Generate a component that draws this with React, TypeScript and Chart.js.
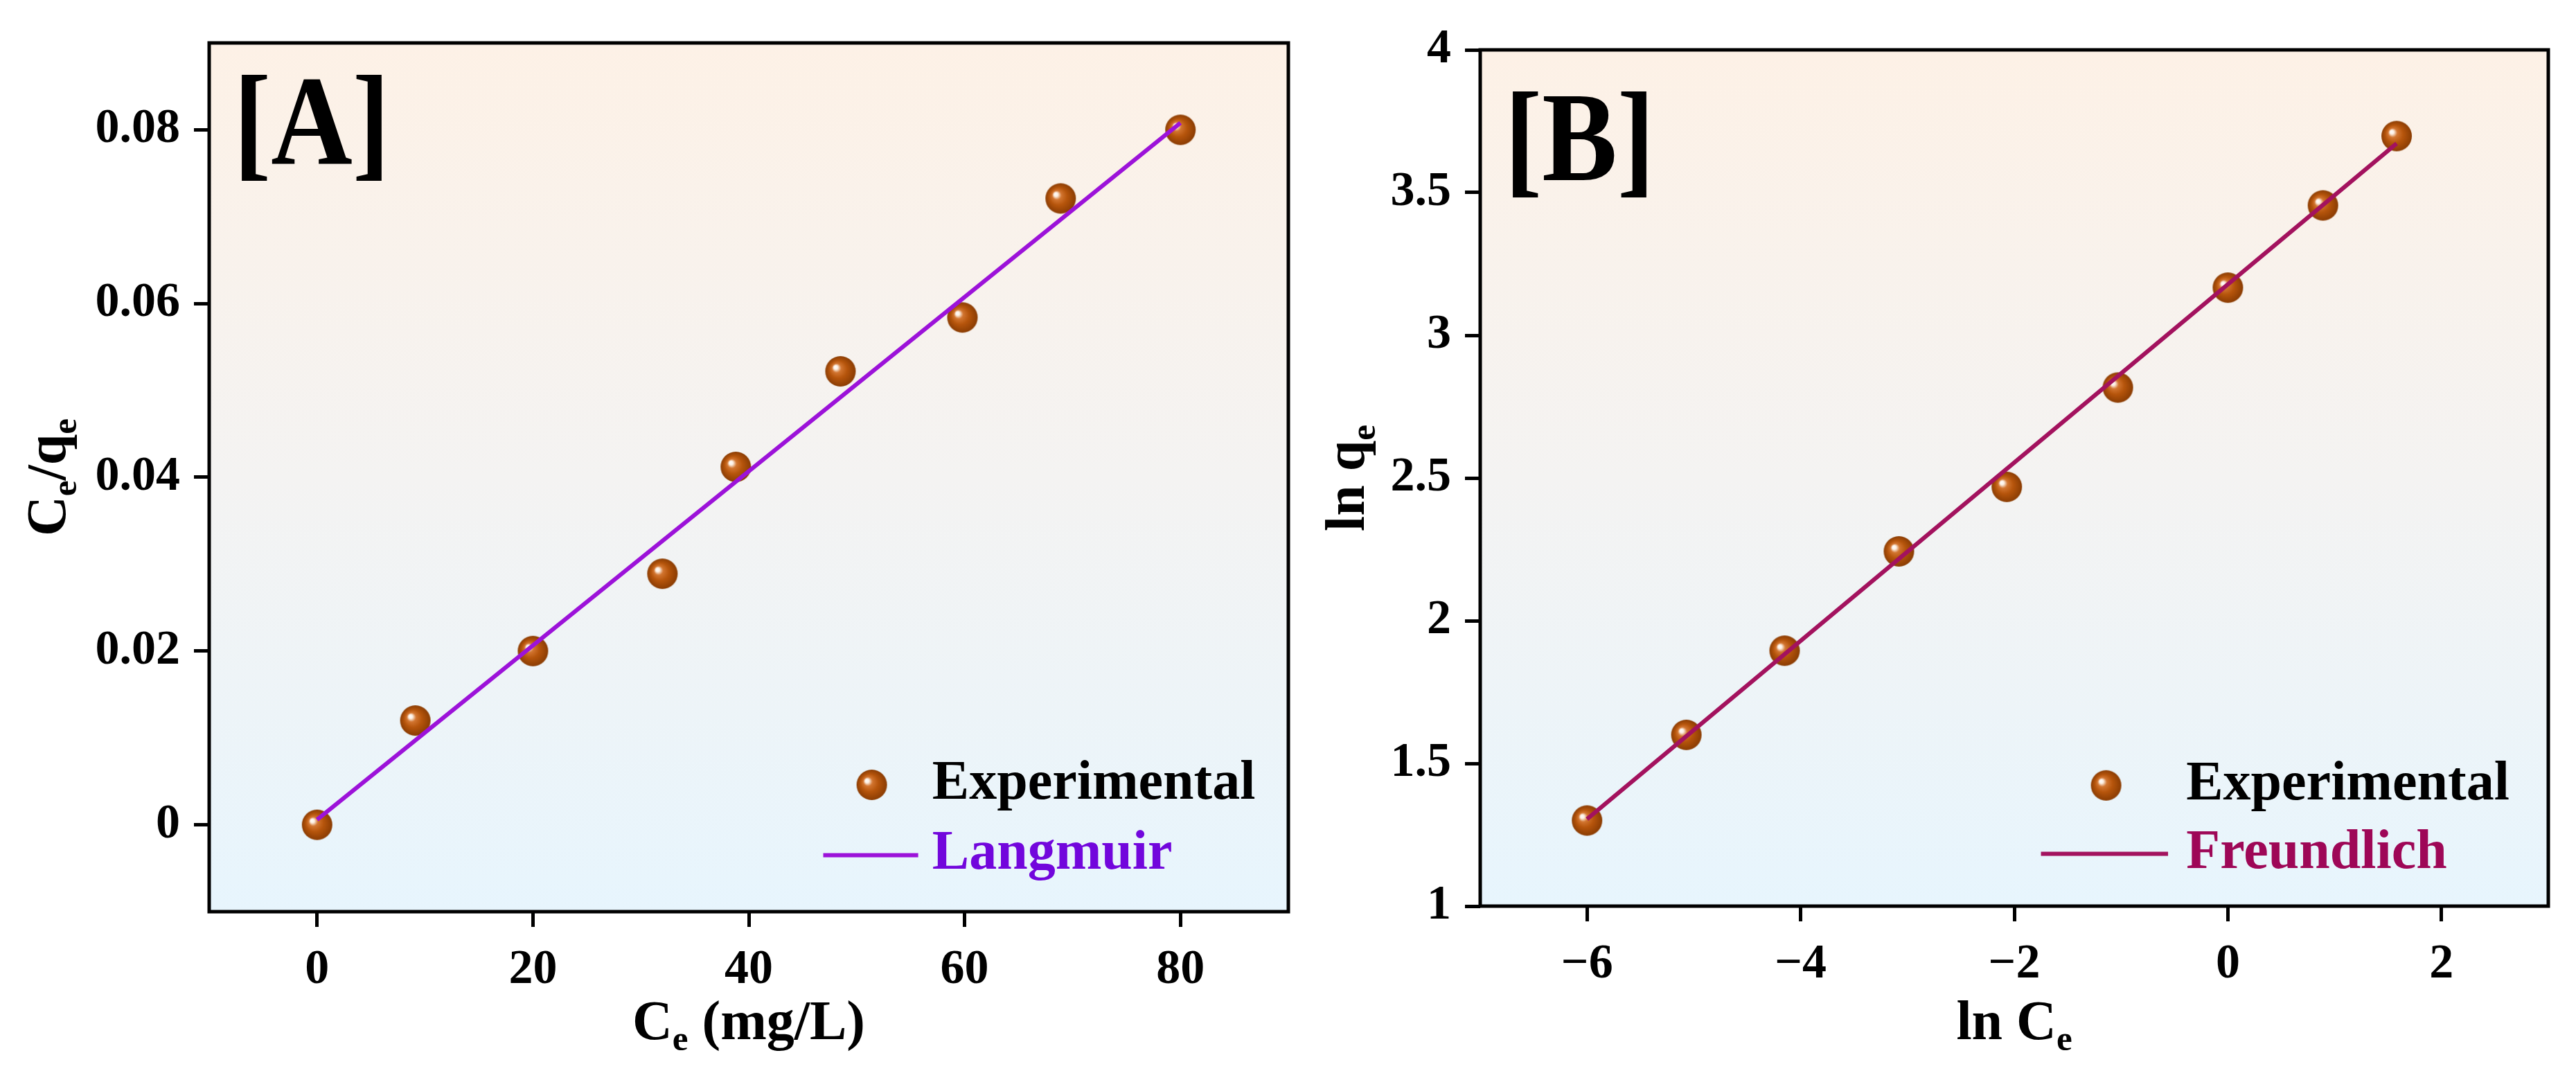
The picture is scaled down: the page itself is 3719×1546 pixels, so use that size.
import { useEffect, useRef } from 'react';
import { Chart, registerables, type ChartConfiguration, type Plugin } from 'chart.js';

Chart.register(...registerables);

// ---- data ----
const langmuirCe = [0, 9.1, 20, 32, 38.8, 48.5, 59.8, 68.9, 80];
const langmuirCeQe = [0, 0.012, 0.02, 0.0289, 0.0412, 0.0522, 0.0584, 0.0721, 0.08];
const langmuirFitX = [0, 80];
const langmuirFitY = [0.0006, 0.0808];

const freundLnCe = [-6, -5.07, -4.15, -3.08, -2.07, -1.03, 0, 0.89, 1.58];
const freundLnQe = [1.3, 1.6, 1.895, 2.243, 2.469, 2.817, 3.167, 3.455, 3.698];
const freundFitX = [-6, 1.58];
const freundFitY = [1.305, 3.672];

const xTicksA = [0, 20, 40, 60, 80];
const xLabelsA = ['0', '20', '40', '60', '80'];
const yTicksA = [0, 0.02, 0.04, 0.06, 0.08];
const yLabelsA = ['0', '0.02', '0.04', '0.06', '0.08'];

const xTicksB = [-6, -4, -2, 0, 2];
const xLabelsB = ['\u22126', '\u22124', '\u22122', '0', '2'];
const yTicksB = [1, 1.5, 2, 2.5, 3, 3.5, 4];
const yLabelsB = ['1', '1.5', '2', '2.5', '3', '3.5', '4'];

type Seg = { t: string; sub?: boolean };
const xTitleA: Seg[] = [{ t: 'C' }, { t: 'e', sub: true }, { t: ' (mg/L)' }];
const yTitleA: Seg[] = [{ t: 'C' }, { t: 'e', sub: true }, { t: '/q' }, { t: 'e', sub: true }];
const xTitleB: Seg[] = [{ t: 'ln C' }, { t: 'e', sub: true }];
const yTitleB: Seg[] = [{ t: 'ln q' }, { t: 'e', sub: true }];

const FONT = "'Liberation Serif', 'Times New Roman', serif";
const PAGE_H = 1546;

interface Panel {
  canvasLeft: number;
  canvasWidth: number;
  area: { left: number; right: number; top: number; bottom: number };
  xRange: [number, number];
  yRange: [number, number];
  xTicks: number[];
  xLabels: string[];
  yTicks: number[];
  yLabels: string[];
  px: number[];
  py: number[];
  fx: number[];
  fy: number[];
  fitLabel: string;
  fitColor: string;
  fitText: string;
  tag: string;
  tagDy: number;
  xTitle: Seg[];
  yTitle: Seg[];
  yTitleX: number;
  legend: { marker: number; text: number; line: [number, number]; row1: number; row2: number };
}

const panels: Panel[] = [
  {
    canvasLeft: 0,
    canvasWidth: 1900,
    area: { left: 302, right: 1860, top: 62, bottom: 1316 },
    xRange: [-10, 90],
    yRange: [-0.01, 0.09],
    xTicks: xTicksA,
    xLabels: xLabelsA,
    yTicks: yTicksA,
    yLabels: yLabelsA,
    px: langmuirCe,
    py: langmuirCeQe,
    fx: langmuirFitX,
    fy: langmuirFitY,
    fitLabel: 'Langmuir',
    fitColor: '#9c12d9',
    fitText: '#7206dc',
    tag: '[A]',
    tagDy: 0,
    xTitle: xTitleA,
    yTitle: yTitleA,
    yTitleX: 67,
    legend: { marker: 0.614, text: 0.67, line: [0.569, 0.657], row1: 0.854, row2: 0.935 },
  },
  {
    canvasLeft: 1900,
    canvasWidth: 1819,
    area: { left: 2137, right: 3679, top: 72, bottom: 1308 },
    xRange: [-7, 3],
    yRange: [1, 4],
    xTicks: xTicksB,
    xLabels: xLabelsB,
    yTicks: yTicksB,
    yLabels: yLabelsB,
    px: freundLnCe,
    py: freundLnQe,
    fx: freundFitX,
    fy: freundFitY,
    fitLabel: 'Freundlich',
    fitColor: '#a3125e',
    fitText: '#9e0757',
    tag: '[B]',
    tagDy: 14,
    xTitle: xTitleB,
    yTitle: yTitleB,
    yTitleX: 42,
    legend: { marker: 0.586, text: 0.661, line: [0.525, 0.644], row1: 0.859, row2: 0.939 },
  },
];

function makeSphere(r: number) {
  const c = document.createElement('canvas');
  const s = Math.ceil(r * 2 + 2);
  c.width = s;
  c.height = s;
  const g = c.getContext('2d')!;
  const cx = s / 2;
  const cy = s / 2;
  const grad = g.createRadialGradient(cx - r * 0.36, cy - r * 0.3, 0, cx, cy, r);
  grad.addColorStop(0, '#ffffff');
  grad.addColorStop(0.13, '#fdf1e6');
  grad.addColorStop(0.3, '#d27530');
  grad.addColorStop(0.58, '#b6550c');
  grad.addColorStop(1, '#8a3c03');
  g.fillStyle = grad;
  g.beginPath();
  g.arc(cx, cy, r, 0, Math.PI * 2);
  g.fill();
  return c;
}

function drawRich(ctx: CanvasRenderingContext2D, segs: Seg[], x: number, y: number, size: number) {
  const subSize = size * 0.64;
  const font = (sz: number) => `bold ${sz}px ${FONT}`;
  let total = 0;
  const widths = segs.map((s) => {
    ctx.font = font(s.sub ? subSize : size);
    const w = ctx.measureText(s.t).width;
    total += w;
    return w;
  });
  let cx = x - total / 2;
  ctx.textAlign = 'left';
  ctx.textBaseline = 'alphabetic';
  segs.forEach((s, i) => {
    ctx.font = font(s.sub ? subSize : size);
    ctx.fillText(s.t, cx, s.sub ? y + size * 0.2 : y);
    cx += widths[i];
  });
}

function decor(p: Panel, sphere: HTMLCanvasElement): Plugin<'scatter'> {
  return {
    id: 'decor',
    beforeDraw(chart) {
      const { ctx, chartArea: a } = chart;
      ctx.save();
      const grad = ctx.createLinearGradient(0, a.top, 0, a.bottom);
      grad.addColorStop(0, '#fdf1e6');
      grad.addColorStop(0.5, '#f4f3f2');
      grad.addColorStop(1, '#e7f5fd');
      ctx.fillStyle = grad;
      ctx.fillRect(a.left, a.top, a.right - a.left, a.bottom - a.top);
      ctx.restore();
    },
    afterDatasetsDraw(chart) {
      const { ctx, chartArea: a } = chart;
      const w = a.right - a.left;
      const h = a.bottom - a.top;
      ctx.save();
      // frame
      ctx.strokeStyle = '#000';
      ctx.lineWidth = 5;
      ctx.strokeRect(a.left, a.top, w, h);

      // panel tag, a little condensed like the original
      ctx.save();
      ctx.fillStyle = '#000';
      ctx.font = `bold 185px ${FONT}`;
      ctx.textAlign = 'left';
      ctx.textBaseline = 'alphabetic';
      ctx.translate(a.left + 35, a.top + 174 + p.tagDy);
      ctx.scale(0.88, 1);
      ctx.fillText(p.tag, 0, 0);
      ctx.restore();

      // legend
      const lg = p.legend;
      const labels = chart.data.datasets.map((d) => d.label as string);
      const my = a.top + h * lg.row1;
      ctx.drawImage(sphere, a.left + w * lg.marker - sphere.width / 2, my - sphere.height / 2);
      ctx.font = `bold 80px ${FONT}`;
      ctx.textAlign = 'left';
      ctx.textBaseline = 'alphabetic';
      ctx.fillStyle = '#000';
      ctx.fillText(labels[1], a.left + w * lg.text, my + 20);
      const ly = a.top + h * lg.row2;
      ctx.strokeStyle = p.fitColor;
      ctx.lineWidth = 6;
      ctx.beginPath();
      ctx.moveTo(a.left + w * lg.line[0], ly);
      ctx.lineTo(a.left + w * lg.line[1], ly);
      ctx.stroke();
      ctx.fillStyle = p.fitText;
      ctx.fillText(labels[0], a.left + w * lg.text, ly + 20);

      // axis titles
      ctx.fillStyle = '#000';
      drawRich(ctx, p.xTitle, (a.left + a.right) / 2, 1500, 80);
      ctx.translate(p.yTitleX, (a.top + a.bottom) / 2);
      ctx.rotate(-Math.PI / 2);
      drawRich(ctx, p.yTitle, 0, 27, 80);
      ctx.restore();
    },
  };
}

function buildConfig(p: Panel, sphere: HTMLCanvasElement): ChartConfiguration<'scatter'> {
  const tickFont = { family: FONT, size: 70, weight: 'bold' as const, lineHeight: 1 };
  const grid = {
    display: true,
    drawOnChartArea: false,
    drawTicks: true,
    tickLength: 22,
    tickWidth: 5,
    tickColor: '#000',
    color: '#000',
  };
  return {
    type: 'scatter',
    data: {
      datasets: [
        {
          label: p.fitLabel,
          data: p.fx.map((x, i) => ({ x, y: p.fy[i] })),
          showLine: true,
          borderColor: p.fitColor,
          borderWidth: 6,
          pointRadius: 0,
          order: 0,
        },
        {
          label: 'Experimental',
          data: p.px.map((x, i) => ({ x, y: p.py[i] })),
          showLine: false,
          pointStyle: sphere,
          pointRadius: 22,
          order: 1,
        },
      ],
    },
    options: {
      animation: false,
      responsive: true,
      maintainAspectRatio: false,
      devicePixelRatio: 1,
      events: [],
      layout: {
        autoPadding: false,
        padding: {
          left: 0,
          top: p.area.top,
          right: p.canvasLeft + p.canvasWidth - p.area.right,
          bottom: 0,
        },
      },
      plugins: { legend: { display: false }, tooltip: { enabled: false } },
      scales: {
        x: {
          type: 'linear',
          min: p.xRange[0],
          max: p.xRange[1],
          grid,
          border: { display: false },
          afterBuildTicks: (s) => {
            s.ticks = p.xTicks.map((v) => ({ value: v }));
          },
          afterFit: (s) => {
            s.height = PAGE_H - p.area.bottom;
          },
          ticks: {
            color: '#000',
            font: tickFont,
            padding: 28,
            maxRotation: 0,
            autoSkip: false,
            callback: (_v, i) => p.xLabels[i],
          },
        },
        y: {
          type: 'linear',
          min: p.yRange[0],
          max: p.yRange[1],
          grid,
          border: { display: false },
          afterBuildTicks: (s) => {
            s.ticks = p.yTicks.map((v) => ({ value: v }));
          },
          afterFit: (s) => {
            s.width = p.area.left - p.canvasLeft;
          },
          ticks: {
            color: '#000',
            font: tickFont,
            padding: 20,
            autoSkip: false,
            callback: (_v, i) => p.yLabels[i],
          },
        },
      },
    },
    plugins: [decor(p, sphere)],
  };
}

function PanelChart({ p }: { p: Panel }) {
  const canvasRef = useRef<HTMLCanvasElement>(null);

  useEffect(() => {
    if (!canvasRef.current) return;
    const sphere = makeSphere(22);
    const chart = new Chart(canvasRef.current, buildConfig(p, sphere));
    return () => chart.destroy();
  }, [p]);

  return (
    <div
      style={{
        position: 'absolute',
        left: p.canvasLeft,
        top: 0,
        width: p.canvasWidth,
        height: PAGE_H,
      }}
    >
      <canvas ref={canvasRef} />
    </div>
  );
}

export default function App() {
  return (
    <div
      style={{
        position: 'absolute',
        left: 0,
        top: 0,
        width: 3719,
        height: PAGE_H,
        background: '#fff',
        overflow: 'hidden',
      }}
    >
      {panels.map((p) => (
        <PanelChart key={p.tag} p={p} />
      ))}
    </div>
  );
}
